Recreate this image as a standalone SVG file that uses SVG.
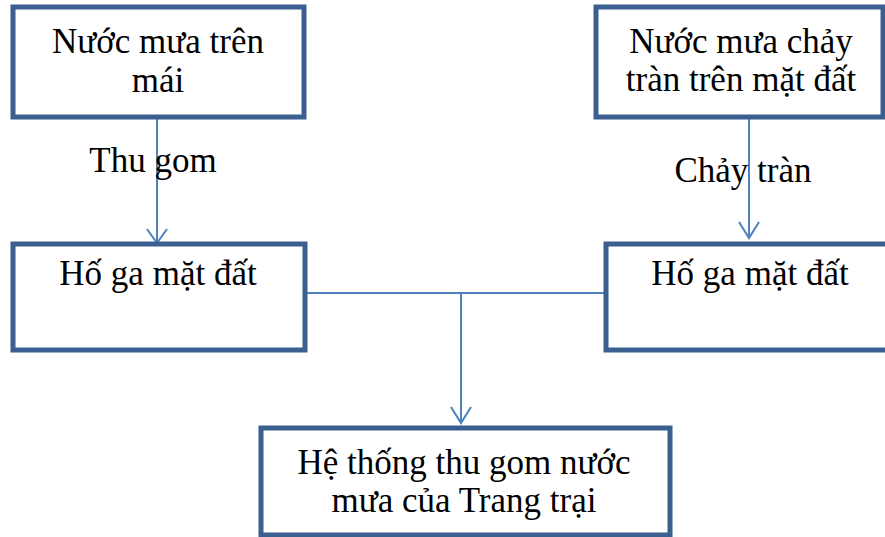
<svg xmlns="http://www.w3.org/2000/svg" width="885" height="537" viewBox="0 0 885 537">
  <style>
    .box { fill: #ffffff; stroke: #3B5F8F; stroke-width: 5; }
    .lbl { font-family: "Liberation Serif", "Times New Roman", serif; font-size: 35px; fill: #000000; text-anchor: middle; }
    .edge { fill: none; stroke: #4F81BD; stroke-width: 2; }
    .head { fill: none; stroke: #4F81BD; stroke-width: 2; stroke-linejoin: miter; }
  </style>
  <rect width="885" height="537" fill="#ffffff"/>

  <!-- connectors -->
  <g id="connectors">
    <line class="edge" x1="157" y1="119" x2="157" y2="243"/>
    <polyline class="head" points="147,229 157,243 167,229"/>
    <line class="edge" x1="749" y1="119" x2="749" y2="238"/>
    <polyline class="head" points="739,222 749,238 759,222"/>
    <line class="edge" x1="306" y1="293" x2="605" y2="293"/>
    <line class="edge" x1="461" y1="293" x2="461" y2="423"/>
    <polyline class="head" points="451,407 461,423 471,407"/>
    <text class="lbl" x="153" y="172">Thu gom</text>
    <text class="lbl" x="743" y="182">Chảy tràn</text>
  </g>

  <g id="roof-water">
    <rect class="box" x="13" y="7" width="291" height="110"/>
    <text class="lbl" x="158" y="53">Nước mưa trên</text>
    <text class="lbl" x="158" y="92">mái</text>
  </g>

  <g id="surface-water">
    <rect class="box" x="596" y="7" width="287" height="110"/>
    <text class="lbl" x="741" y="53">Nước mưa chảy</text>
    <text class="lbl" x="741" y="91">tràn trên mặt đất</text>
  </g>

  <g id="pit-left">
    <rect class="box" x="13" y="244" width="292" height="106"/>
    <text class="lbl" x="158" y="285">Hố ga mặt đất</text>
  </g>

  <g id="pit-right">
    <rect class="box" x="606" y="244" width="290" height="106"/>
    <text class="lbl" x="750" y="285">Hố ga mặt đất</text>
  </g>

  <g id="farm-system">
    <rect class="box" x="261" y="428" width="409" height="107"/>
    <text class="lbl" x="464" y="474">Hệ thống thu gom nước</text>
    <text class="lbl" x="464" y="512">mưa của Trang trại</text>
  </g>
</svg>
